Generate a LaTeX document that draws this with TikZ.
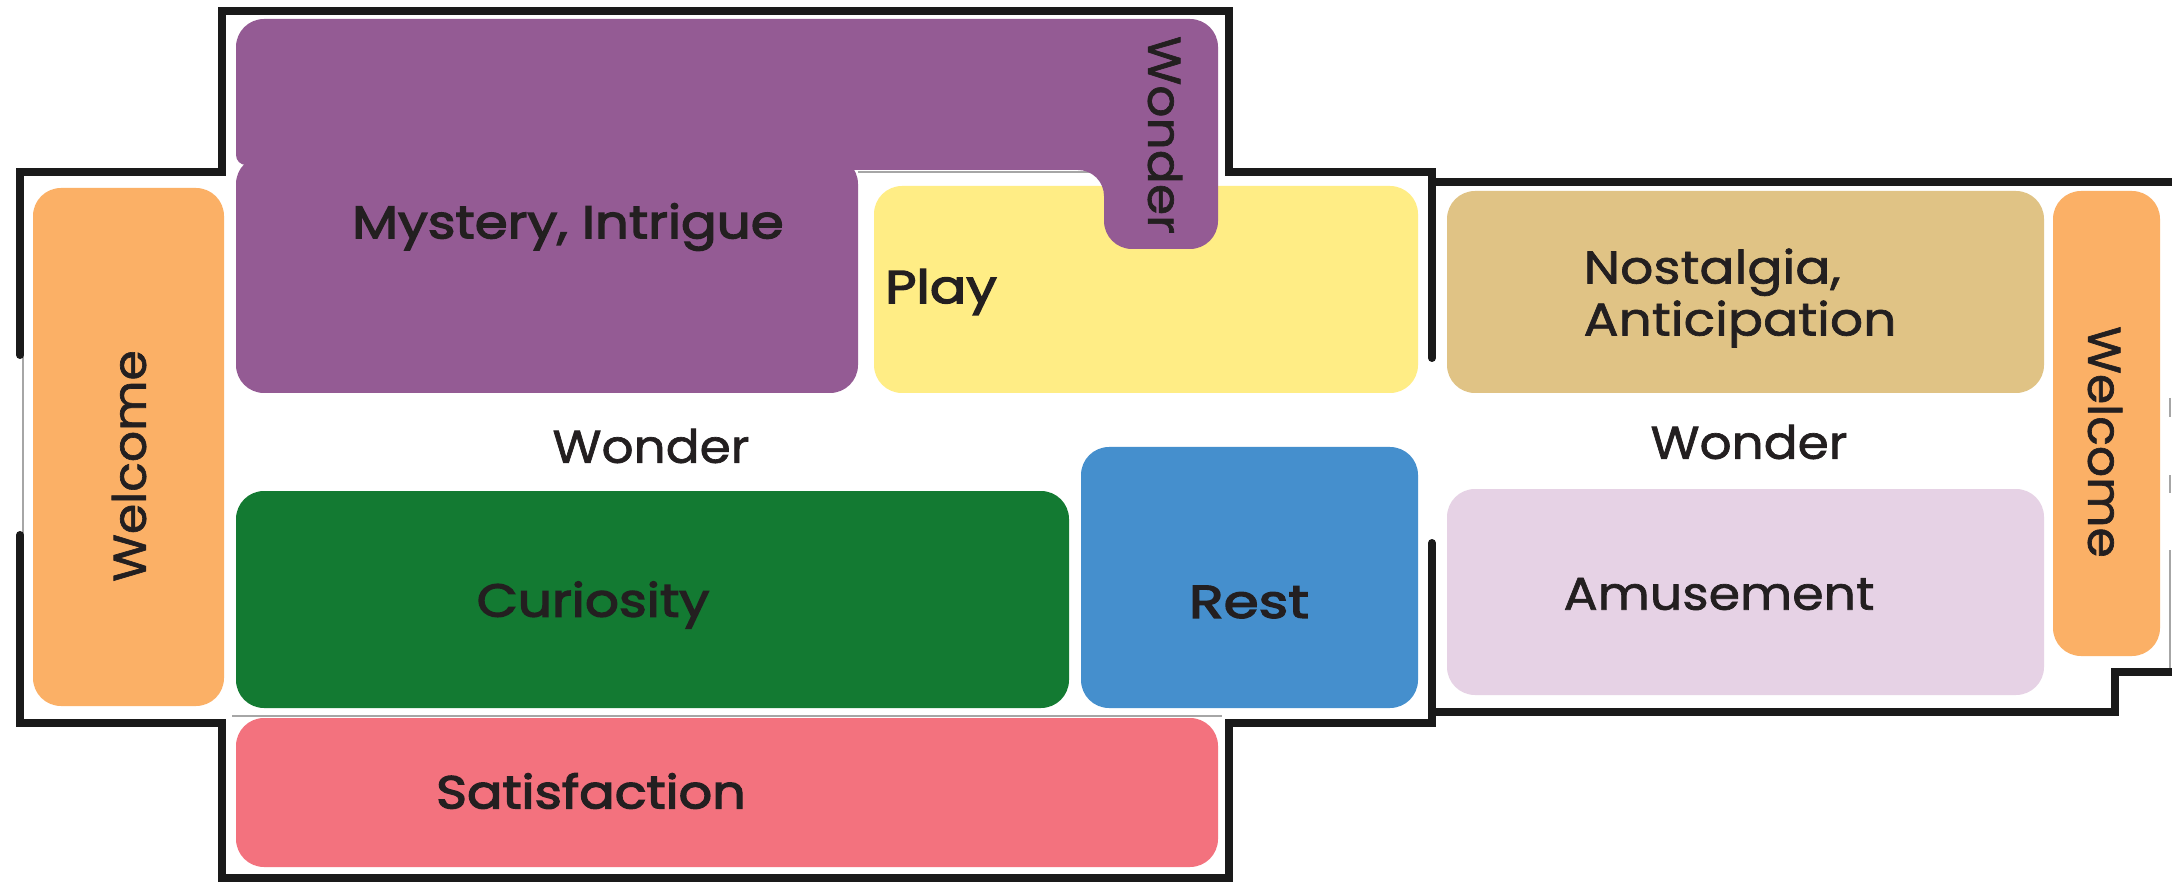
\documentclass[tikz,border=0pt]{standalone}
\usepackage{graphicx}
\usepackage{fontspec}
\setmainfont[FakeStretch=1.13,FakeBold=1.5]{Poppins}
\newfontfamily\hvyfont[FakeStretch=1.13,FakeBold=3]{Poppins}
\newcommand{\sx}[2]{\scalebox{#1}[1]{#2}}
\definecolor{ink}{HTML}{231F20}
\definecolor{wallc}{HTML}{1A1A1A}
\definecolor{cPurple}{HTML}{945B94}
\definecolor{cYellow}{HTML}{FFED85}
\definecolor{cOrange}{HTML}{FBB066}
\definecolor{cGreen}{HTML}{137A32}
\definecolor{cBlue}{HTML}{458FCD}
\definecolor{cRed}{HTML}{F3727E}
\definecolor{cTan}{HTML}{E0C385}
\definecolor{cLilac}{HTML}{E6D2E5}
\tikzset{
  wall/.style={draw=wallc,line width=8pt,line join=miter,line cap=round},
  thinwall/.style={draw=black!35,line width=2pt},
  room/.style={rounded corners=28pt},
  lbl/.style={text=ink,font=\fontsize{46}{52}\selectfont,inner sep=0pt,align=left},
  hvy/.style={lbl,font=\fontsize{46}{52}\selectfont\hvyfont},
}
\begin{document}
\begin{tikzpicture}[x=1pt,y=-1pt]
\useasboundingbox[fill=white] (0,0) rectangle (2172,882);
% thin remnants
\draw[thinwall] (23,355) -- (23,535);
\draw[thinwall] (232,716) -- (1222,716);
\draw[thinwall] (858,172) -- (1090,172);
\draw[thinwall] (2170,398) -- (2170,417);
\draw[thinwall] (2170,475) -- (2170,493);
\draw[thinwall] (2170,550) -- (2170,668);
% walls
\draw[wall] (20,355) -- (20,172) -- (222,172) -- (222,11) -- (1229,11) -- (1229,172) -- (1432,172) -- (1432,358);
\draw[wall] (1432,182) -- (2172,182);
\draw[wall] (20,535) -- (20,723) -- (222,723) -- (222,878) -- (1229,878) -- (1229,723) -- (1432,723) -- (1432,543);
\draw[wall] (1432,712) -- (2115,712) -- (2115,672) -- (2172,672);
% rooms
\fill[cOrange,room] (33,188) rectangle (224,706);
\fill[cYellow,room] (874,186) rectangle (1418,393);
\fill[cPurple,room] (236,156) rectangle (858,393);
\fill[cPurple] (236,48) [rounded corners=28pt] -- (236,19) -- (1218,19) -- (1218,249) -- (1104,249) [rounded corners=26pt] -- (1104,170) [sharp corners] -- (850,170) -- (850,165) [rounded corners=10pt] -- (236,165) [sharp corners] -- cycle;
\fill[cGreen,room] (236,491) rectangle (1069,708);
\fill[cBlue,room] (1081,447) rectangle (1418,708);
\fill[cRed,room] (236,718) rectangle (1218,867);
\fill[cTan,room] (1447,191) rectangle (2044,393);
\fill[cLilac,room] (1447,489) rectangle (2044,695);
\fill[cOrange,room] (2053,191) rectangle (2160,656);
% labels
\node[hvy] (mystery) at (568,227) {\sx{1.02}{Mystery, Intrigue}};
\node[lbl,rotate=-90] (wonderA) at (1165,135) {\sx{.97}{Wonder}};
\node[hvy] (play) at (941,292) {\sx{1.04}{Play}};
\node[lbl] (wonderB) at (651,446) {\sx{.965}{Wonder}};
\node[lbl,rotate=90] (welcomeA) at (129,466) {\sx{.94}{Welcome}};
\node[hvy] (curiosity) at (593,605) {\sx{1.025}{Curiosity}};
\node[hvy] (rest) at (1249,602) {\sx{1.09}{Rest}};
\node[hvy] (satisfaction) at (591,791) {\sx{1.01}{Satisfaction}};
\node[lbl] (nostalgia) at (1740,298) {Nostalgia,\\Anticipation};
\node[lbl] (wonderC) at (1749,442) {\sx{.965}{Wonder}};
\node[lbl] (amusement) at (1719,594) {\sx{.974}{Amusement}};
\node[lbl,rotate=-90] (welcomeB) at (2105,442) {\sx{.94}{Welcome}};
\end{tikzpicture}
\end{document}
